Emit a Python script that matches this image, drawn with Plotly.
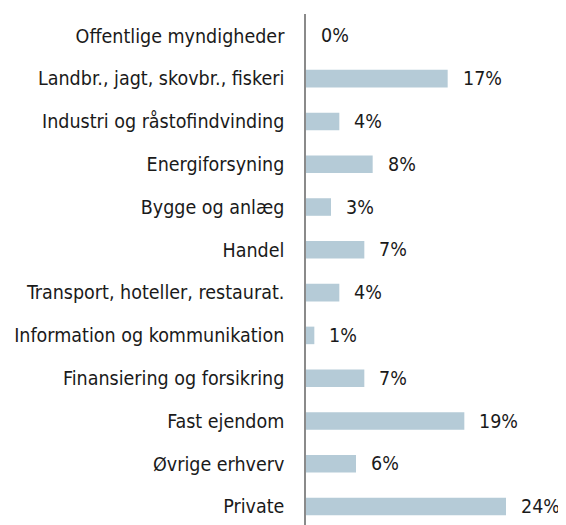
import plotly.graph_objects as go

categories = [
    "Offentlige myndigheder",
    "Landbr., jagt, skovbr., fiskeri",
    "Industri og råstofindvinding",
    "Energiforsyning",
    "Bygge og anlæg",
    "Handel",
    "Transport, hoteller, restaurat.",
    "Information og kommunikation",
    "Finansiering og forsikring",
    "Fast ejendom",
    "Øvrige erhverv",
    "Private",
]
values = [0, 17, 4, 8, 3, 7, 4, 1, 7, 19, 6, 24]
labels = ["0%", "17%", "4%", "8%", "3%", "7%", "4%", "1%", "7%", "19%", "6%", "24%"]

FONT = "DejaVu Sans Condensed"
FSIZE = 19.5

fig = go.Figure(
    go.Bar(
        x=values,
        y=categories,
        orientation="h",
        marker=dict(color="#b5cbd7", line=dict(width=0)),
        width=0.41,
        hoverinfo="skip",
    )
)

for c, v, t in zip(categories, values, labels):
    fig.add_annotation(
        x=v, y=c, text=t, showarrow=False, xanchor="left", yanchor="middle",
        xshift=13, font=dict(family=FONT, size=FSIZE, color="#1a1a1a"),
    )

fig.update_layout(
    width=558,
    height=517,
    margin=dict(l=298, r=10, t=6, b=0),
    plot_bgcolor="white",
    paper_bgcolor="white",
    showlegend=False,
    font=dict(family=FONT, size=FSIZE, color="#1a1a1a"),
)
fig.update_xaxes(range=[0, 30], visible=False, showgrid=False, zeroline=False)
fig.update_yaxes(
    categoryorder="array",
    categoryarray=categories,
    range=[11.43, -0.51],
    showline=True,
    linecolor="#8a8a8a",
    linewidth=1.5,
    showgrid=False,
    zeroline=False,
    ticks="",
    ticklabelstandoff=16,
    tickfont=dict(family=FONT, size=FSIZE, color="#1a1a1a"),
)

fig.write_html("out.html")
